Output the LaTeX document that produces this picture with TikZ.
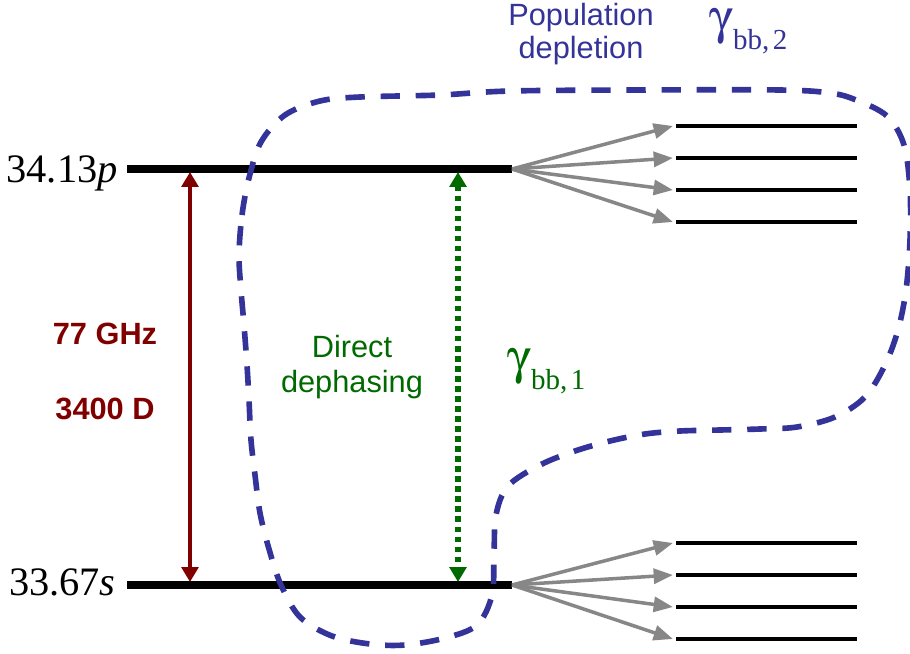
\documentclass[tikz,border=0pt]{standalone}
\usepackage[Symbol]{upgreek}
\usepackage{fontspec}
\setmainfont{Liberation Serif}
\setsansfont{Liberation Sans}
\usetikzlibrary{arrows.meta}
\definecolor{dblue}{HTML}{333399}
\definecolor{dred}{HTML}{800000}
\definecolor{dgreen}{HTML}{006A00}
\definecolor{fgray}{HTML}{878787}
\begin{document}
\begin{tikzpicture}[x=0.02cm,y=-0.02cm,
  mainlevel/.style={line width=4.2pt,black},
  sublevel/.style={line width=2.5pt,black},
  decay/.style={fgray,line width=2pt,-{Triangle[length=11pt,width=8.5pt]}},
  transition/.style={dred,line width=2.1pt,{Triangle[length=8.5pt,width=9.5pt]}-{Triangle[length=8.5pt,width=9.5pt]}},
  dephase/.style={dgreen,line width=3pt,dash pattern=on 3pt off 2.7pt,{Triangle[length=8.5pt,width=9.5pt]}-{Triangle[length=8.5pt,width=9.5pt]}},
  envelope/.style={dblue,line width=3.2pt,dash pattern=on 11pt off 9pt},
  statelabel/.style={inner sep=0pt,font=\fontsize{23}{26}\selectfont},
  redlabel/.style={dred,inner sep=0pt,font=\sffamily\bfseries\fontsize{17.5}{20}\selectfont},
  sanslabel/.style={inner sep=0pt,align=center},
  gammalabel/.style={inner sep=0pt,anchor=base west}
]
\useasboundingbox (0,0) rectangle (910,653);

% main levels
\coordinate (pL) at (127,169); \coordinate (pR) at (512,169);
\coordinate (sL) at (127,585); \coordinate (sR) at (512,585);
\draw[mainlevel] (pL) -- (pR);
\draw[mainlevel] (sL) -- (sR);

% sub levels and decay arrows
\foreach \i/\y in {1/126,2/158,3/190,4/222}{
  \coordinate (pu\i L) at (676,\y); \coordinate (pu\i R) at (857,\y);
  \coordinate (pu\i T) at (673,\y);
  \draw[sublevel] (pu\i L) -- (pu\i R);
  \draw[decay] (pR) -- (pu\i T);
}
\foreach \i/\y in {1/543,2/575,3/607,4/639}{
  \coordinate (su\i L) at (676,\y); \coordinate (su\i R) at (857,\y);
  \coordinate (su\i T) at (673,\y);
  \draw[sublevel] (su\i L) -- (su\i R);
  \draw[decay] (sR) -- (su\i T);
}

% transitions
\coordinate (rtop) at (190,172); \coordinate (rbot) at (190,582);
\draw[transition] (rtop) -- (rbot);
\coordinate (gtop) at (458,172); \coordinate (gbot) at (458,582);
\draw[dephase] (gtop) -- (gbot);

% labels
\node[statelabel,anchor=base east] (lp) at (118,182) {34.13\textit{p}};
\node[statelabel,anchor=base east] (ls) at (116,595) {33.67\textit{s}};
\node[redlabel] (freq) at (105,334) {77 GHz};
\node[redlabel] (dip) at (105,409) {3400 D};
\node[sanslabel,dgreen,font=\sffamily\fontsize{17.5}{20}\selectfont] (dd) at (352,367) {Direct\\dephasing};
\node[sanslabel,dblue,font=\sffamily\fontsize{17.5}{19}\selectfont] (pd) at (581,34) {Population\\depletion};
\node[gammalabel,dgreen] (g1) at (507,373) {\fontsize{28}{30}\selectfont $\upgamma$\raisebox{-9.6pt}{\fontsize{16.5}{16}\selectfont bb,\hspace{0.12em}1}};
\node[gammalabel,dblue] (g2) at (709,33) {\fontsize{28}{30}\selectfont $\upgamma$\raisebox{-9.6pt}{\fontsize{16.5}{16}\selectfont bb,\hspace{0.12em}2}};

% dashed envelope
\draw[envelope] plot[smooth cycle,tension=0.55] coordinates {
 (239,255) (242,215) (249,178) (261,142) (285,115) (320,101) (360,97) (440,95)
 (510,91) (640,90) (780,90) (830,93) (856,100) (887,116) (904,145) (910,190)
 (910,240) (906,290) (898,330) (885,365) (865,397) (835,417) (797,427) (760,429)
 (720,430) (680,431) (645,434) (610,441) (575,451) (540,465) (508,486) (496,515)
 (494,555) (492,595) (477,625) (445,638) (405,645) (370,644) (332,636) (300,617)
 (281,585) (269,549) (260,513) (255,475) (251,440) (249,400) (247,365) (244,325)
 (241,290)};
\end{tikzpicture}
\end{document}
